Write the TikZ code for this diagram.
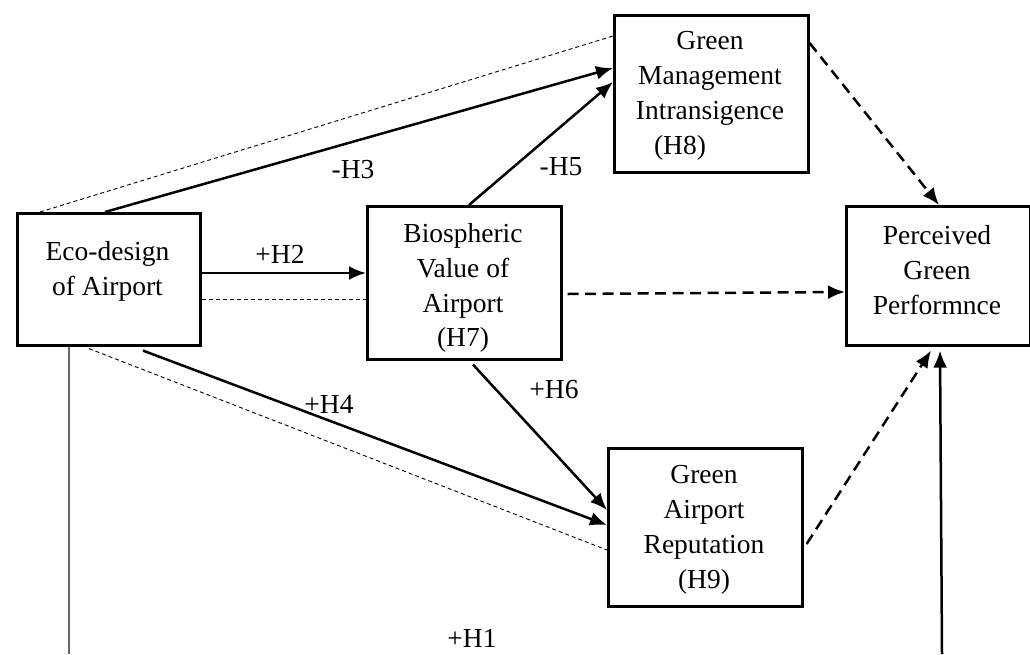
\documentclass[tikz,border=0pt]{standalone}
\usepackage{fontspec}
\setmainfont{Liberation Serif}
\usetikzlibrary{arrows.meta}
\begin{document}
\begin{tikzpicture}[x=1pt,y=-1pt,
  box/.style={draw,line width=2.6pt,inner sep=0pt,anchor=north west},
  txt/.style={font=\fontsize{27.5}{34.8}\selectfont,align=center,inner sep=0pt},
  lbl/.style={font=\fontsize{27.5}{34.8}\selectfont,inner sep=0pt},
  arr/.style={line width=2.5pt,-{Latex[length=17pt,width=14pt]}},
  darr/.style={line width=2.5pt,dash pattern=on 11pt off 6.5pt,-{Latex[length=17pt,width=14pt]}},
  thindash/.style={line width=0.9pt,dash pattern=on 4pt off 3pt},
  greyline/.style={line width=1.4pt,draw=black!60}]
\useasboundingbox (0,0) rectangle (1030,654);
% boxes
\node[box,minimum width=183pt,minimum height=132pt] (eco) at (16,212) {};
\node[box,minimum width=194pt,minimum height=153pt] (bio) at (366,205) {};
\node[box,minimum width=194pt,minimum height=157pt] (gm) at (613,14) {};
\node[box,minimum width=184pt,minimum height=139pt] (pgp) at (845,205) {};
\node[box,minimum width=194pt,minimum height=158pt] (gar) at (607,447) {};
% texts
\node[txt] (ecot) at (107.5,271) {Eco-design\\of Airport};
\node[txt] (biot) at (463,288) {Biospheric\\Value of\\Airport\\(H7)};
\node[txt] (gmt) at (710,96) {Green\\Management\\Intransigence\\\hspace*{-60pt}(H8)};
\node[txt] (pgpt) at (937,270) {Perceived\\Green\\Performnce};
\node[txt] (gart) at (704,530) {Green\\Airport\\Reputation\\(H9)};
% free ends
\coordinate (h1start) at (942,654);
\coordinate (greyend) at (69,654);
% connectors
\draw[thindash] ([xshift=24pt]eco.north west) -- ([yshift=-22pt]gm.north west);
\draw[arr] ([xshift=89pt]eco.north west) -- ([yshift=-54pt]gm.north west);
\draw[arr] ([xshift=103pt]bio.north west) -- ([yshift=-68pt]gm.north west);
\draw[arr] ([yshift=-61pt]eco.north east) -- ([yshift=-68pt]bio.north west);
\draw[thindash] ([yshift=-87pt]eco.north east) -- ([yshift=-94pt]bio.north west);
\draw[darr] ([xshift=5pt,yshift=-89pt]bio.north east) -- ([yshift=-87pt]pgp.north west);
\draw[darr] ([yshift=-29pt]gm.north east) -- ([xshift=94pt]pgp.north west);
\draw[darr] ([xshift=3pt,yshift=-97pt]gar.north east) -- ([xshift=86pt,yshift=-4pt]pgp.south west);
\draw[arr] (h1start) -- ([xshift=95pt,yshift=-4pt]pgp.south west);
\draw[greyline] ([xshift=53pt]eco.south west) -- (greyend);
\draw[arr] ([xshift=127pt,yshift=-4pt]eco.south west) -- ([yshift=-78pt]gar.north west);
\draw[thindash] ([xshift=73pt,yshift=-2pt]eco.south west) -- ([yshift=-103pt]gar.north west);
\draw[arr] ([xshift=107pt,yshift=-4pt]bio.south west) -- ([yshift=-63pt]gar.north west);
% labels
\node[lbl] (lh2) at (280,254) {+H2};
\node[lbl] (lh3) at (353,170) {-H3};
\node[lbl] (lh5) at (561,167) {-H5};
\node[lbl] (lh4) at (329,404) {+H4};
\node[lbl] (lh6) at (554,390) {+H6};
\node[lbl] (lh1) at (472,638) {+H1};
\end{tikzpicture}
\end{document}
